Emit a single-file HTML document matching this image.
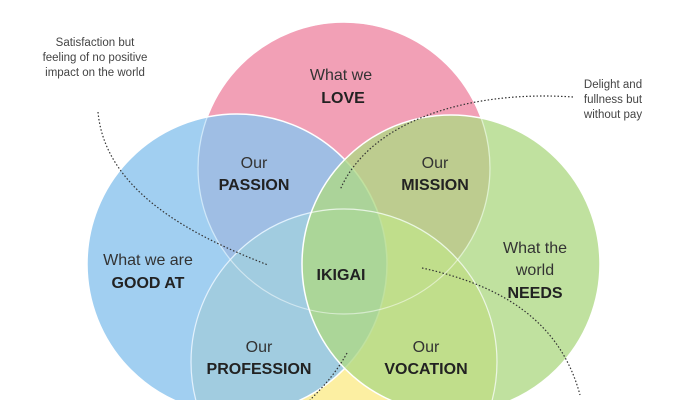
<!DOCTYPE html>
<html><head><style>
html,body{margin:0;padding:0;background:#fff;width:700px;height:400px;overflow:hidden;}
svg{display:block;font-family:"Liberation Sans",sans-serif;}
</style></head><body>
<svg width="700" height="400" viewBox="0 0 700 400">
<circle cx="344" cy="168" r="146" fill="#f2a0b6" stroke="#fff" stroke-width="1.5"/>
<circle cx="344" cy="362" r="153" fill="#fcefa2" stroke="#fff" stroke-width="1.5"/>
<g stroke="#fff" stroke-width="1.5">
<circle cx="237" cy="264" r="150" fill="#8cc4ee" fill-opacity="0.82"/>
<circle cx="451" cy="264" r="149" fill="#aed884" fill-opacity="0.78"/>
</g>
<circle cx="344" cy="362" r="153" fill="none" stroke="#fff" stroke-opacity="0.7" stroke-width="1.2"/>
<circle cx="344" cy="168" r="146" fill="none" stroke="#fff" stroke-opacity="0.5" stroke-width="1.2"/>
<g fill="none" stroke="#333" stroke-width="1.2" stroke-dasharray="1.5 2">
<path d="M98 112 C105 190 190 235 268 265"/>
<path d="M573 97 C470 90 370 120 340 190"/>
<path d="M422 268 C500 285 560 320 580 395"/>
<path d="M347 353 C335 375 320 390 310 400"/>
</g>
<g font-size="16" fill="#333" text-anchor="middle">
<text x="341" y="80">What we</text>
<text x="343" y="103" font-weight="bold" fill="#222">LOVE</text>
<text x="254" y="168">Our</text>
<text x="254" y="190" font-weight="bold" fill="#222">PASSION</text>
<text x="435" y="168">Our</text>
<text x="435" y="190" font-weight="bold" fill="#222">MISSION</text>
<text x="148" y="265">What we are</text>
<text x="148" y="288" font-weight="bold" fill="#222">GOOD AT</text>
<text x="341" y="280" font-weight="bold" fill="#222">IKIGAI</text>
<text x="535" y="253">What the</text>
<text x="535" y="275">world</text>
<text x="535" y="298" font-weight="bold" fill="#222">NEEDS</text>
<text x="259" y="352">Our</text>
<text x="259" y="374" font-weight="bold" fill="#222">PROFESSION</text>
<text x="426" y="352">Our</text>
<text x="426" y="374" font-weight="bold" fill="#222">VOCATION</text>
</g>
<g font-size="11.5" fill="#444" text-anchor="middle">
<text x="95" y="46">Satisfaction but</text>
<text x="95" y="61">feeling of no positive</text>
<text x="95" y="76">impact on the world</text>
<text x="613" y="88">Delight and</text>
<text x="613" y="103">fullness but</text>
<text x="613" y="118">without pay</text>
</g>
</svg>
</body></html>
